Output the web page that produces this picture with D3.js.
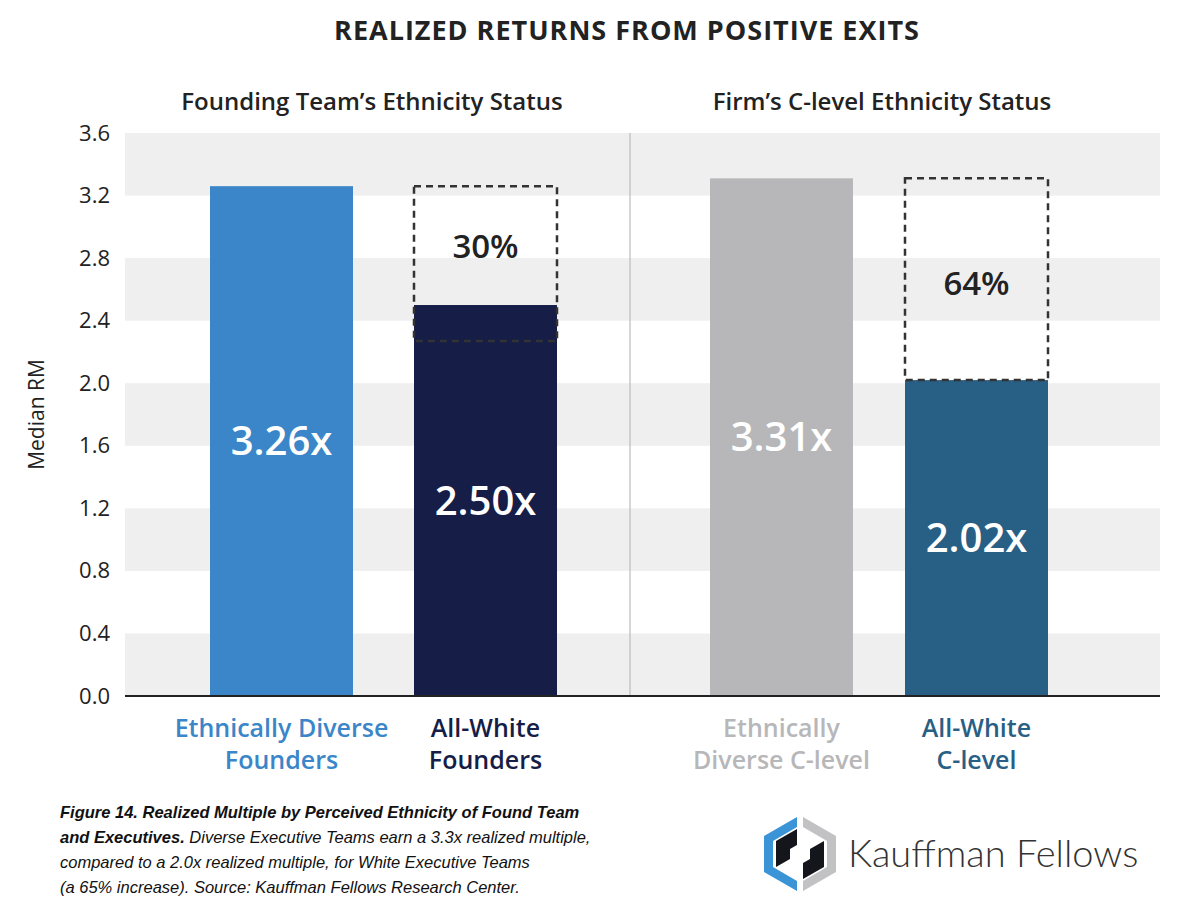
<!DOCTYPE html>
<html><head><meta charset="utf-8">
<script src="https://cdn.jsdelivr.net/npm/d3@7"></script>
<style>body{margin:0;background:#fff;font-family:"Open Sans",sans-serif}</style>
</head><body><svg id="c" width="1188" height="922"></svg>
<script>
// Chart data
const groups = ["Founding Team’s Ethnicity Status", "Firm’s C-level Ethnicity Status"];
const categories = ["Ethnically Diverse|Founders", "All-White|Founders", "Ethnically|Diverse C-level", "All-White|C-level"];
const values = [3.26, 2.50, 3.31, 2.02];
const valueLabels = ["3.26x", "2.50x", "3.31x", "2.02x"];
const gapBoxes = [{bar: 1, top: 3.26, bottom: 2.27, label: "30%"}, {bar: 3, top: 3.31, bottom: 2.02, label: "64%"}];
const yTicks = [0, 0.4, 0.8, 1.2, 1.6, 2.0, 2.4, 2.8, 3.2, 3.6];
const colors = ["#3a86c8", "#161d47", "#b7b7b9", "#286085"];

const svg = d3.select('#c');
const plotL = 125, plotR = 1160, plotT = 133, plotB = 696;

const y = d3.scaleLinear().domain([0, 3.6]).range([plotB, plotT]);
const x = d3.scaleOrdinal().domain(d3.range(4)).range([210, 414, 710, 905]);
const barW = 143;

// Stripes
svg.selectAll('.band').data(yTicks.slice(0, -1).filter((d, i) => i % 2 === 0))
    .enter().append('rect')
    .attr('x', plotL).attr('width', plotR - plotL)
    .attr('y', d => y(d + 0.4)).attr('height', d => y(d) - y(d + 0.4))
    .attr('fill', '#efeff0');

svg.append('line').attr('x1', 630).attr('x2', 630).attr('y1', plotT).attr('y2', plotB)
    .attr('stroke', '#bbb').attr('stroke-width', 1.2);

// Y axis
const yAxis = svg.append('g').attr('transform', `translate(${plotL - 12},0)`)
    .call(d3.axisLeft(y).tickValues(yTicks).tickFormat(d3.format('.1f')).tickSize(0));
yAxis.select('.domain').remove();
yAxis.selectAll('text').style('font-size', '22px').style('font-family', 'Open Sans').attr('fill', '#222');

svg.append('text').attr('transform', `translate(44,${(plotT + plotB) / 2}) rotate(-90)`)
    .attr('text-anchor', 'middle').style('font-size', '21px').attr('fill', '#222').text('Median RM');

// Bars
svg.selectAll('.bar').data(values).enter().append('rect')
    .attr('x', (d, i) => x(i)).attr('width', barW)
    .attr('y', d => y(d)).attr('height', d => plotB - y(d))
    .attr('fill', (d, i) => colors[i]);

svg.selectAll('.vlab').data(values).enter().append('text')
    .attr('x', (d, i) => x(i) + barW / 2).attr('y', d => y(d / 2) + 14)
    .attr('text-anchor', 'middle').attr('fill', '#fff')
    .style('font-size', '40px').style('font-weight', 600)
    .text((d, i) => valueLabels[i]);

// Dashed gap boxes
gapBoxes.forEach(b => {
    svg.append('rect').attr('x', x(b.bar)).attr('width', barW)
        .attr('y', y(b.top)).attr('height', y(b.bottom) - y(b.top))
        .attr('fill', 'none').attr('stroke', '#333').attr('stroke-width', 2.5)
        .attr('stroke-dasharray', '7,5');
    svg.append('text').attr('x', x(b.bar) + barW / 2)
        .attr('y', b.bar === 1 ? 258 : 295)
        .attr('text-anchor', 'middle').attr('fill', '#222')
        .style('font-size', '33px').style('font-weight', 600).text(b.label);
});

svg.append('line').attr('x1', plotL).attr('x2', plotR).attr('y1', plotB).attr('y2', plotB)
    .attr('stroke', '#222').attr('stroke-width', 2);

// Category labels
categories.forEach((c, i) => {
    const t = svg.append('text').attr('text-anchor', 'middle').attr('fill', colors[i])
        .style('font-size', '25px').style('font-weight', 600);
    c.split('|').forEach((line, j) => {
        t.append('tspan').attr('x', x(i) + barW / 2).attr('y', 737 + j * 32).text(line);
    });
});

// Titles
svg.append('text').attr('x', 627).attr('y', 40).attr('text-anchor', 'middle')
    .style('font-size', '27px').style('font-weight', 700).style('letter-spacing', '1px')
    .attr('fill', '#222').text('REALIZED RETURNS FROM POSITIVE EXITS');
svg.selectAll('.gt').data(groups).enter().append('text')
    .attr('x', (d, i) => i === 0 ? 372 : 882).attr('y', 110).attr('text-anchor', 'middle')
    .style('font-size', '24px').style('font-weight', 600).attr('fill', '#222').text(d => d);

// Caption
const cap = svg.append('text').style('font-family', 'Liberation Sans, Arial').style('font-size', '16.5px')
    .style('font-style', 'italic').attr('fill', '#111');
const capLines = [
    [["Figure 14. Realized Multiple by Perceived Ethnicity of Found Team", true]],
    [["and Executives.", true], [" Diverse Executive Teams earn a 3.3x realized multiple,", false]],
    [["compared to a 2.0x realized multiple, for White Executive Teams", false]],
    [["(a 65% increase). Source: Kauffman Fellows Research Center.", false]]
];
capLines.forEach((ln, j) => {
    ln.forEach(([txt, b], k) => {
        const ts = cap.append('tspan').style('font-weight', b ? 700 : 400).text(txt);
        if (k === 0) ts.attr('x', 60).attr('y', 818 + j * 25);
    });
});

// Logo
const lg = svg.append('g').attr('transform', 'translate(800,853)');
lg.append('path').attr('d', 'M-3,-36 L-36,-17 L-36,19 L-3,38 L-3,28 L-27,14 L-27,-12 L-3,-26 Z').attr('fill', '#3a94d6');
lg.append('path').attr('d', 'M3,-36 L36,-17 L36,19 L3,38 L3,28 L27,14 L27,-12 L3,-26 Z').attr('fill', '#c2c2c4');
lg.append('path').attr('d', 'M-3,-24 L-24,-12 L-24,14 L-10,6 L-10,-4 L-3,-8 Z').attr('fill', '#15151c');
lg.append('path').attr('d', 'M3,26 L24,14 L24,-12 L10,-4 L10,6 L3,10 Z').attr('fill', '#15151c');
lg.append('text').attr('x', 48).attr('y', 14).style('font-size', '38px').style('font-weight', 300)
    .style('font-family', 'Lato').attr('fill', '#333').text('Kauffman Fellows');
</script></body></html>
